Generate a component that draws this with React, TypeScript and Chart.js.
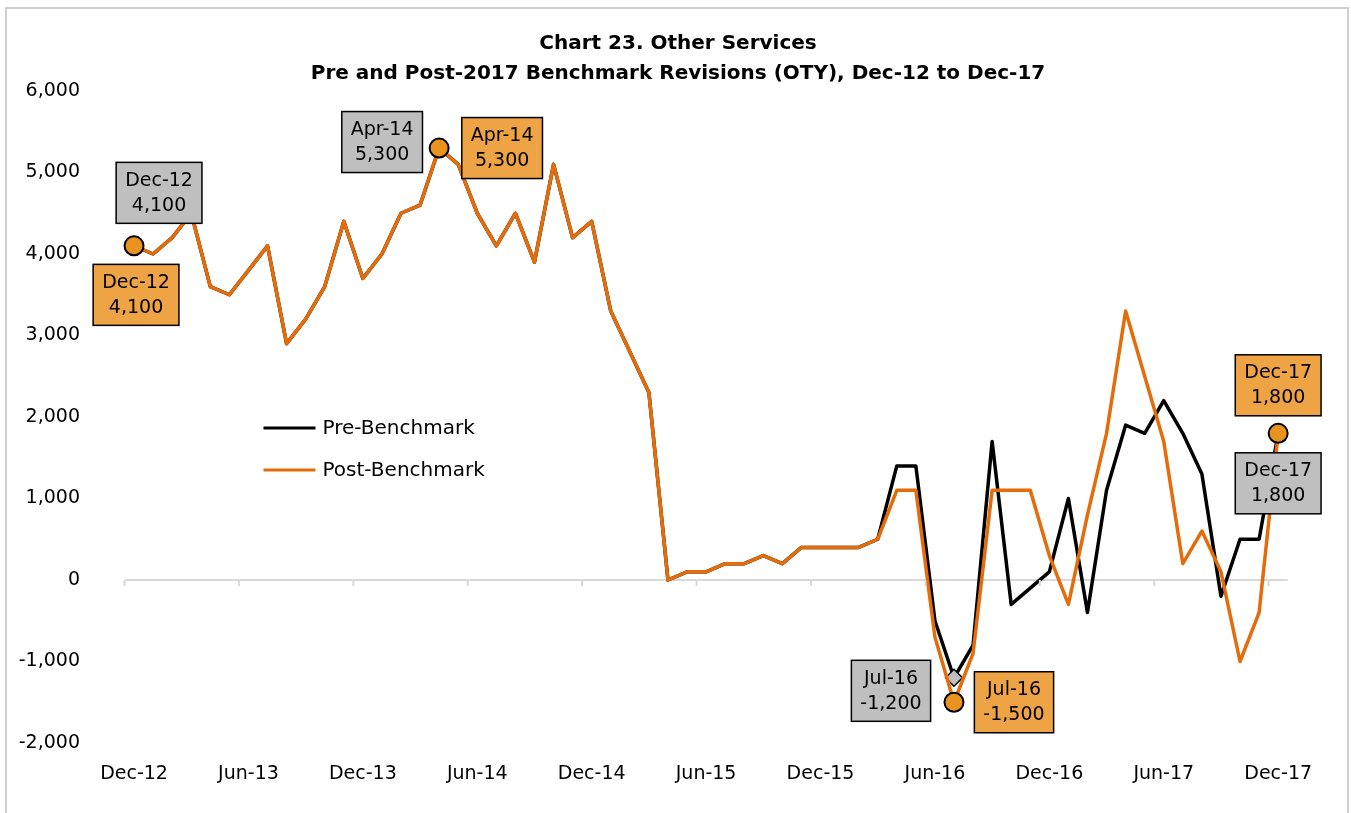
import React, { useEffect, useRef } from "react";
import { Chart, registerables } from "chart.js";

Chart.register(...registerables);

// ---------- data ----------
const CATEGORIES = [
  "Dec-12",
  "Jan-13", "Feb-13", "Mar-13", "Apr-13", "May-13", "Jun-13", "Jul-13", "Aug-13", "Sep-13", "Oct-13", "Nov-13", "Dec-13",
  "Jan-14", "Feb-14", "Mar-14", "Apr-14", "May-14", "Jun-14", "Jul-14", "Aug-14", "Sep-14", "Oct-14", "Nov-14", "Dec-14",
  "Jan-15", "Feb-15", "Mar-15", "Apr-15", "May-15", "Jun-15", "Jul-15", "Aug-15", "Sep-15", "Oct-15", "Nov-15", "Dec-15",
  "Jan-16", "Feb-16", "Mar-16", "Apr-16", "May-16", "Jun-16", "Jul-16", "Aug-16", "Sep-16", "Oct-16", "Nov-16", "Dec-16",
  "Jan-17", "Feb-17", "Mar-17", "Apr-17", "May-17", "Jun-17", "Jul-17", "Aug-17", "Sep-17", "Oct-17", "Nov-17", "Dec-17",
];

const PRE_BENCHMARK = [
  4100,
  4000, 4200, 4500, 3600, 3500, 3800, 4100, 2900, 3200, 3600, 4400, 3700,
  4000, 4500, 4600, 5300, 5100, 4500, 4100, 4500, 3900, 5100, 4200, 4400,
  3300, 2800, 2300, 0, 100, 100, 200, 200, 300, 200, 400, 400,
  400, 400, 500, 1400, 1400, -500, -1200, -800, 1700, -300, -100, 100,
  1000, -400, 1100, 1900, 1800, 2200, 1800, 1300, -200, 500, 500, 1800,
];

const POST_BENCHMARK = [
  4100,
  4000, 4200, 4500, 3600, 3500, 3800, 4100, 2900, 3200, 3600, 4400, 3700,
  4000, 4500, 4600, 5300, 5100, 4500, 4100, 4500, 3900, 5100, 4200, 4400,
  3300, 2800, 2300, 0, 100, 100, 200, 200, 300, 200, 400, 400,
  400, 400, 500, 1100, 1100, -700, -1500, -900, 1100, 1100, 1100, 300,
  -300, 800, 1800, 3300, 2500, 1700, 200, 600, 100, -1000, -400, 1800,
];

const SERIES_NAMES = ["Pre-Benchmark", "Post-Benchmark"];
const TITLE_LINES = [
  "Chart 23. Other Services",
  "Pre and Post-2017 Benchmark Revisions (OTY), Dec-12 to Dec-17",
];
const Y_MIN = -2000;
const Y_MAX = 6000;
const Y_STEP = 1000;
const LABEL_EVERY = 6;
const CALLOUT_INDEX = [0, 16, 43, 60]; // Dec-12, Apr-14, Jul-16, Dec-17

// ---------- styles ----------
const FONT = '"DejaVu Sans", sans-serif';
const TITLE_FONT = 'bold 20px "DejaVu Sans", sans-serif';
const PRE_COLOR = "#000000";
const POST_COLOR = "#E46C0A";
const PRE_BOX = "#BFBFBF";
const POST_BOX = "#EEA344";
const POST_MARKER = "#E8931E";
const AXIS_GRAY = "#D9D9D9";
// box centre offsets from the point, per callout (pixels)
const PRE_OFFSETS = [[25, -53], [-57, -6], [-63, 13], [0, 50]];
const POST_OFFSETS = [[2, 49], [63, 0], [60, 0], [0, -48]];

const fmt = (v: number) => v.toLocaleString("en-US");

const overlayPlugin = {
  id: "overlay",
  afterDatasetsDraw(chart: any) {
    const ctx = chart.ctx as CanvasRenderingContext2D;
    const xs = chart.scales.x;
    const ys = chart.scales.y;
    const zeroY = ys.getPixelForValue(0);

    // category-axis tick marks (between categories, every 6)
    ctx.save();
    ctx.strokeStyle = AXIS_GRAY;
    ctx.lineWidth = 2;
    for (let k = 0; k < CATEGORIES.length; k += LABEL_EVERY) {
      const x = k === 0 ? xs.left : (xs.getPixelForValue(k - 1) + xs.getPixelForValue(k)) / 2;
      ctx.beginPath();
      ctx.moveTo(x, zeroY);
      ctx.lineTo(x, zeroY + 6);
      ctx.stroke();
    }
    ctx.restore();

    // callout boxes
    const drawBox = (dsIndex: number, offsets: number[][], fill: string) => {
      const meta = chart.getDatasetMeta(dsIndex);
      const values = chart.data.datasets[dsIndex].data as number[];
      CALLOUT_INDEX.forEach((idx, n) => {
        const el = meta.data[idx];
        const cx = el.x + offsets[n][0];
        const cy = el.y + offsets[n][1];
        const lines = [CATEGORIES[idx], fmt(values[idx])];
        ctx.save();
        ctx.font = `19px ${FONT}`;
        const w = Math.max(...lines.map((l) => ctx.measureText(l).width)) + 18;
        const h = 61;
        ctx.fillStyle = fill;
        ctx.fillRect(cx - w / 2, cy - h / 2, w, h);
        ctx.strokeStyle = "#000";
        ctx.lineWidth = 1.5;
        ctx.strokeRect(cx - w / 2, cy - h / 2, w, h);
        ctx.fillStyle = "#000";
        ctx.textAlign = "center";
        ctx.textBaseline = "middle";
        ctx.fillText(lines[0], cx, cy - 12);
        ctx.fillText(lines[1], cx, cy + 13);
        ctx.restore();
      });
    };
    drawBox(0, PRE_OFFSETS, PRE_BOX);
    drawBox(1, POST_OFFSETS, POST_BOX);
  },
  afterDraw(chart: any) {
    const ctx = chart.ctx as CanvasRenderingContext2D;
    const area = chart.chartArea;
    // legend (inside plot area)
    ctx.save();
    const lx = area.left + 139;
    const ly = area.top + 337;
    [PRE_COLOR, POST_COLOR].forEach((c, i) => {
      const y = ly + i * 42;
      ctx.strokeStyle = c;
      ctx.lineWidth = 3;
      ctx.beginPath();
      ctx.moveTo(lx, y);
      ctx.lineTo(lx + 52, y);
      ctx.stroke();
      ctx.fillStyle = "#000";
      ctx.font = `20px ${FONT}`;
      ctx.textAlign = "left";
      ctx.textBaseline = "middle";
      ctx.fillText(SERIES_NAMES[i], lx + 59, y + 1);
    });
    // title
    ctx.font = TITLE_FONT;
    ctx.textAlign = "center";
    ctx.textBaseline = "middle";
    ctx.fillStyle = "#000";
    TITLE_LINES.forEach((t, i) => ctx.fillText(t, 671, 35 + i * 30));
    ctx.restore();
  },
};

export default function App() {
  const ref = useRef<HTMLCanvasElement>(null);
  useEffect(() => {
    if (!ref.current) return;
    const isCallout = (c: any) => CALLOUT_INDEX.includes(c.dataIndex);
    const chart = new Chart(ref.current, {
      type: "line",
      data: {
        labels: CATEGORIES,
        datasets: [
          {
            label: SERIES_NAMES[0],
            data: PRE_BENCHMARK,
            borderColor: PRE_COLOR,
            borderWidth: 3.5,
            borderJoinStyle: "round",
            tension: 0,
            order: 2,
            pointStyle: "rectRot",
            pointRadius: (c: any) => (isCallout(c) ? 8.5 : 0),
            pointBackgroundColor: PRE_BOX,
            pointBorderColor: "#000",
            pointBorderWidth: 1.5,
          },
          {
            label: SERIES_NAMES[1],
            data: POST_BENCHMARK,
            borderColor: POST_COLOR,
            borderWidth: 3.5,
            borderJoinStyle: "round",
            tension: 0,
            order: 1,
            pointStyle: "circle",
            pointRadius: (c: any) => (isCallout(c) ? 9.5 : 0),
            pointBackgroundColor: POST_MARKER,
            pointBorderColor: "#000",
            pointBorderWidth: 2,
          },
        ],
      },
      options: {
        animation: false,
        responsive: false,
        devicePixelRatio: 1,
        events: [],
        layout: { padding: { left: 0, right: 59.3, top: 82, bottom: 20 } },
        plugins: {
          legend: { display: false },
          title: { display: false },
          tooltip: { enabled: false },
        },
        scales: {
          x: {
            type: "category",
            offset: true,
            grid: { display: false, drawTicks: false, offset: true },
            border: { display: false },
            ticks: {
              autoSkip: false,
              maxRotation: 0,
              minRotation: 0,
              padding: 20,
              color: "#000",
              font: { family: FONT, size: 19 },
              callback: (_v: any, i: number) => (i % LABEL_EVERY === 0 ? CATEGORIES[i] : ""),
            },
            afterFit: (s: any) => {
              s.height = 50;
            },
          },
          y: {
            min: Y_MIN,
            max: Y_MAX,
            border: { display: false },
            grid: {
              drawTicks: false,
              lineWidth: 2,
              color: (c: any) => (c.tick && c.tick.value === 0 ? AXIS_GRAY : "rgba(0,0,0,0)"),
            },
            ticks: {
              stepSize: Y_STEP,
              padding: 44.5,
              color: "#000",
              font: { family: FONT, size: 19 },
              callback: (v: any) => fmt(Number(v)),
            },
            afterFit: (s: any) => {
              s.width = 117.5;
            },
          },
        },
      },
      plugins: [overlayPlugin],
    });
    return () => chart.destroy();
  }, []);

  return (
    <div
      style={{
        position: "absolute",
        left: 5,
        top: 7,
        width: 1340,
        height: 804,
        border: "2px solid #D0D0D0",
        borderBottom: "none",
        background: "#fff",
      }}
    >
      <canvas ref={ref} width={1340} height={804} style={{ display: "block" }} />
    </div>
  );
}
